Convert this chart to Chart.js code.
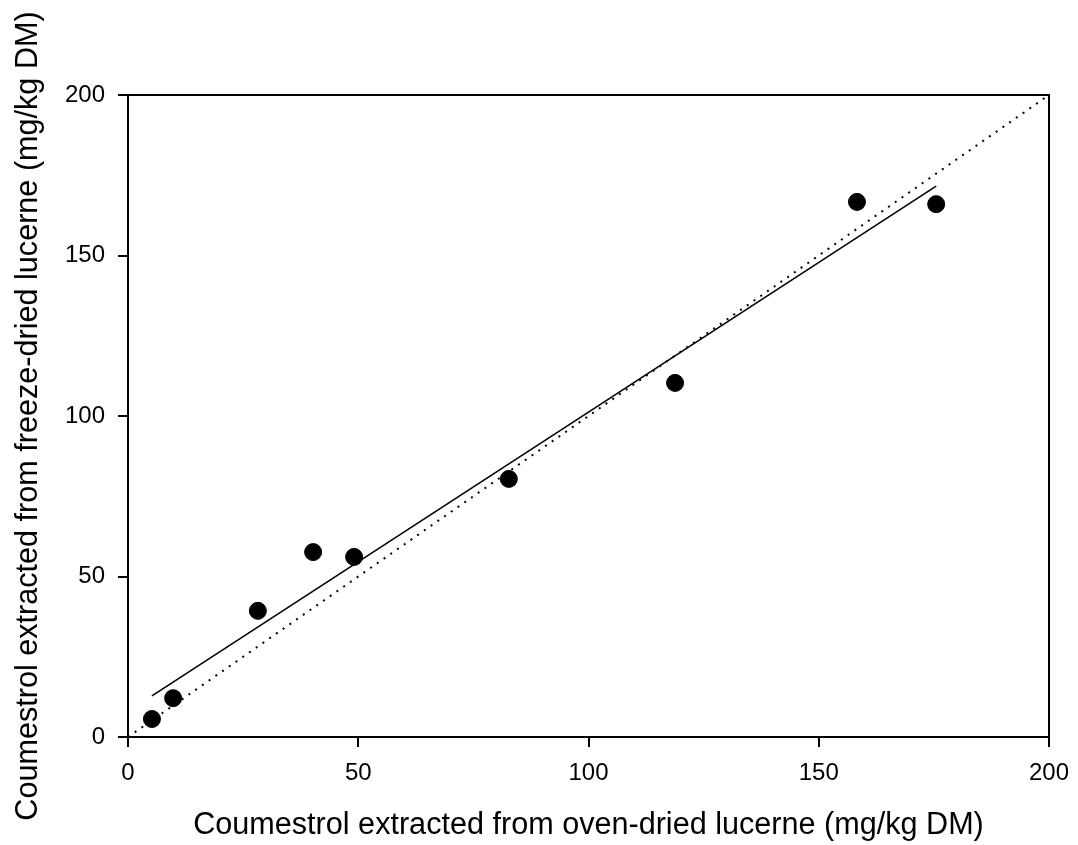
<!DOCTYPE html>
<html>
<head>
<meta charset="utf-8">
<script src="https://cdn.jsdelivr.net/npm/chart.js@4"></script>
<style>
  html, body { margin: 0; padding: 0; background: #fff; }
  #wrap { width: 1078px; height: 845px; }
</style>
</head>
<body>
<div id="wrap"><canvas id="coumestrol"></canvas></div>
<script>
// Measured samples (mg/kg DM)
const ovenDried   = [5.2, 9.8, 28.2, 40.2, 49.1, 82.7, 118.8, 158.3, 175.5];
const freezeDried = [5.6, 12.1, 39.3, 57.6, 56.1, 80.4, 110.3, 166.7, 166.0];

// Fitted regression line end points
const fitX = [5.2, 175.5];
const fitY = [12.8, 171.6];

// 1:1 line
const unityX = [0, 200];
const unityY = [0, 200];

const tickValues = [0, 50, 100, 150, 200];

const toPoints = (xs, ys) => xs.map((x, i) => ({ x: x, y: ys[i] }));

// Draws the box around the plot area
const frame = {
    id: 'frame',
    afterDatasetsDraw(chart) {
        const a = chart.chartArea, ctx = chart.ctx;
        ctx.save();
        ctx.strokeStyle = '#000';
        ctx.lineWidth = 2;
        ctx.strokeRect(a.left, a.top, a.right - a.left, a.bottom - a.top);
        ctx.restore();
    }
};

const family = 'Liberation Sans, Arial, sans-serif';
const tickFont = { family: family, size: 24 };
const titleFont = { family: family, size: 30.6 };

const config = {
    type: 'scatter',
    data: {
        datasets: [
            {
                label: 'Samples',
                data: toPoints(ovenDried, freezeDried),
                backgroundColor: '#000',
                borderColor: '#000',
                pointRadius: 8.5,
                pointHoverRadius: 8.5,
                order: 0
            },
            {
                label: 'Regression',
                data: toPoints(fitX, fitY),
                showLine: true,
                borderColor: '#000',
                borderWidth: 1.6,
                pointRadius: 0,
                order: 1
            },
            {
                label: '1:1',
                data: toPoints(unityX, unityY),
                showLine: true,
                borderColor: '#000',
                borderWidth: 2,
                borderDash: [2, 6.2],
                pointRadius: 0,
                order: 2
            }
        ]
    },
    options: {
        responsive: true,
        maintainAspectRatio: false,
        animation: false,
        layout: { autoPadding: false, padding: { top: 95, right: 29, left: 0, bottom: 0 } },
        plugins: { legend: { display: false }, tooltip: { enabled: false } },
        scales: {
            x: {
                type: 'linear',
                min: 0,
                max: 200,
                afterBuildTicks: s => { s.ticks = tickValues.map(v => ({ value: v })); },
                afterFit: s => {
                    s.height = 845 - 737;
                    s.paddingLeft = 0;
                    s.paddingRight = 0;
                },
                border: { display: true, color: '#000', width: 2 },
                grid: { drawOnChartArea: false, drawTicks: true, tickLength: 10, color: '#000', lineWidth: 2 },
                ticks: { color: '#000', font: tickFont, padding: 12, maxRotation: 0 },
                title: {
                    display: true,
                    text: 'Coumestrol extracted from oven-dried lucerne (mg/kg DM)',
                    color: '#000',
                    font: titleFont,
                    padding: { top: 4, bottom: 1 }
                }
            },
            y: {
                type: 'linear',
                min: 0,
                max: 200,
                afterBuildTicks: s => { s.ticks = tickValues.map(v => ({ value: v })); },
                afterFit: s => {
                    s.width = 128;
                    s.paddingTop = 0;
                    s.paddingBottom = 0;
                },
                border: { display: true, color: '#000', width: 2 },
                grid: { drawOnChartArea: false, drawTicks: true, tickLength: 10, color: '#000', lineWidth: 2 },
                ticks: { color: '#000', font: tickFont, padding: 13 },
                title: {
                    display: true,
                    text: 'Coumestrol extracted from freeze-dried lucerne (mg/kg DM)',
                    color: '#000',
                    font: titleFont,
                    padding: { top: 10, bottom: 4 }
                }
            }
        }
    },
    plugins: [frame]
};

new Chart(document.getElementById('coumestrol'), config);
</script>
</body>
</html>
